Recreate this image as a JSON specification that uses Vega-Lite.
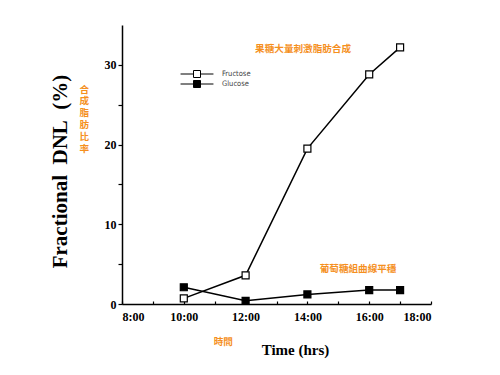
{
  "$schema": "https://vega.github.io/schema/vega-lite/v6.json",
  "width": 309,
  "height": 279,
  "autosize": {"type": "none"},
  "padding": {"left": 122, "top": 25, "right": 69, "bottom": 71},
  "background": "white",
  "config": {
    "view": {"stroke": null},
    "axis": {
      "grid": false,
      "domainColor": "black",
      "domainWidth": 1.5,
      "tickColor": "black",
      "tickWidth": 1.2,
      "labelFont": "Liberation Serif",
      "labelFontWeight": "bold",
      "labelFontSize": 12,
      "labelColor": "black",
      "titleFont": "Liberation Serif",
      "titleFontWeight": "bold",
      "titleColor": "black"
    }
  },
  "datasets": {
    "dnl": [
      {"series": "Fructose", "hour": 10, "dnl": 0.7},
      {"series": "Fructose", "hour": 12, "dnl": 3.6},
      {"series": "Fructose", "hour": 14, "dnl": 19.5},
      {"series": "Fructose", "hour": 16, "dnl": 28.8},
      {"series": "Fructose", "hour": 17, "dnl": 32.2},
      {"series": "Glucose", "hour": 10, "dnl": 2.1},
      {"series": "Glucose", "hour": 12, "dnl": 0.4},
      {"series": "Glucose", "hour": 14, "dnl": 1.2},
      {"series": "Glucose", "hour": 16, "dnl": 1.75},
      {"series": "Glucose", "hour": 17, "dnl": 1.75}
    ],
    "notes": [
      {"hour": 13.86, "dnl": 32.0, "label": "果糖大量刺激脂肪合成"},
      {"hour": 15.64, "dnl": 4.4, "label": "葡萄糖組曲線平穩"},
      {"hour": 11.28, "dnl": -4.8, "label": "時間"},
      {"hour": 6.78, "dnl": 26.9, "label": "合|成|脂|肪|比|率"}
    ]
  },
  "encoding": {
    "x": {
      "field": "hour",
      "type": "quantitative",
      "scale": {"domain": [8, 18], "nice": false, "zero": false},
      "axis": {
        "title": "Time (hrs)",
        "titleFontSize": 15,
        "titleX": 173,
        "titleY": 45,
        "titleBaseline": "middle",
        "titleAnchor": "middle",
        "values": [8, 9, 10, 11, 12, 13, 14, 15, 16, 17, 18],
        "labelExpr": "datum.value % 2 == 0 ? datum.value + ':00' : ''",
        "tickSize": -3,
        "labelPadding": 10
      }
    },
    "y": {
      "field": "dnl",
      "type": "quantitative",
      "scale": {"domain": [0, 35], "nice": false},
      "axis": {
        "title": "Fractional\u2002DNL\u2002(%)",
        "titleFontSize": 21,
        "titleX": -62,
        "titleY": 146,
        "titleAngle": -90,
        "titleAlign": "center",
        "titleBaseline": "middle",
        "values": [0, 5, 10, 15, 20, 25, 30],
        "labelExpr": "datum.value % 10 == 0 ? datum.value : ''",
        "tickSize": 4,
        "labelPadding": 2
      }
    }
  },
  "layer": [
    {
      "data": {"name": "dnl"},
      "mark": {"type": "line", "color": "black", "strokeWidth": 1.5},
      "encoding": {"detail": {"field": "series"}}
    },
    {
      "data": {"name": "dnl"},
      "mark": {"type": "point", "shape": "square", "filled": true, "size": 49, "stroke": "black", "strokeWidth": 1.2, "opacity": 1},
      "encoding": {
        "fill": {
          "field": "series",
          "type": "nominal",
          "scale": {"domain": ["Fructose", "Glucose"], "range": ["white", "black"]},
          "legend": {
            "title": null,
            "orient": "none",
            "legendX": 71,
            "legendY": 45,
            "padding": 0,
            "symbolType": "M-4.7,0H-1M1,0H4.7M-1,-1H1V1H-1Z",
            "symbolSize": 49,
            "symbolStrokeColor": "black",
            "symbolStrokeWidth": 1,
            "labelFont": "DejaVu Sans Condensed",
            "labelFontSize": 7.5,
            "labelColor": "#444",
            "labelOffset": 21,
            "rowPadding": -2
          }
        }
      }
    },
    {
      "data": {"name": "notes"},
      "mark": {"type": "text", "font": "Noto Sans CJK TC", "fontWeight": "bold", "fontSize": 9.6, "color": "#F5901E", "align": "center", "baseline": "middle", "lineBreak": "|", "lineHeight": 11.8},
      "encoding": {"text": {"field": "label"}}
    }
  ]
}
